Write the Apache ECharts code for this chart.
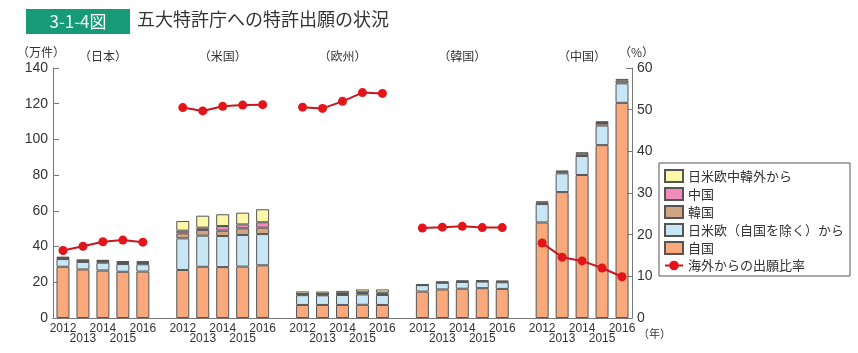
<!DOCTYPE html>
<html lang="ja">
<head>
    <meta charset="UTF-8">
    <title>五大特許庁への特許出願の状況</title>
    <script type="text/javascript" src="https://cdn.jsdelivr.net/npm/echarts@6/dist/echarts.min.js"></script>
    <style>
        html, body {margin: 0; padding: 0; background: #fff;}
        #charts {width: 858px; height: 353px;}
    </style>
</head>
<body>
<div id="charts"></div>
<script>
    // 年・庁
    var years = ['2012', '2013', '2014', '2015', '2016']
    var offices = ['（日本）', '（米国）', '（欧州）', '（韓国）', '（中国）']

    // 出願件数（万件）  日本, 米国, 欧州, 韓国, 中国 の順
    var selfApps = [
        [28.7, 27.2, 26.6, 25.9, 26.0],
        [26.9, 28.7, 28.5, 28.8, 29.5],
        [7.3, 7.3, 7.3, 7.4, 7.3],
        [14.8, 16.0, 16.4, 16.7, 16.3],
        [53.5, 70.5, 80.1, 96.8, 120.5]
    ]
    var jueApps = [
        [4.3, 4.2, 4.4, 4.3, 4.1],
        [17.7, 17.4, 17.4, 17.7, 17.5],
        [5.5, 5.4, 5.6, 5.8, 5.6],
        [3.6, 3.7, 3.8, 3.7, 3.7],
        [10.3, 10.5, 10.6, 11.0, 10.9]
    ]
    var krApps = [
        [0.5, 0.5, 0.6, 0.6, 0.6],
        [2.8, 3.2, 3.0, 3.7, 3.6],
        [0.5, 0.5, 0.6, 0.7, 0.7],
        [null, null, null, null, null],
        [0.9, 1.0, 1.3, 1.4, 1.5]
    ]
    var cnApps = [
        [0.2, 0.2, 0.3, 0.4, 0.5],
        [1.5, 1.3, 2.6, 2.2, 3.0],
        [0.2, 0.3, 0.4, 0.5, 0.6],
        [0.2, 0.3, 0.3, 0.3, 0.4],
        [null, null, null, null, null]
    ]
    var otherApps = [
        [0.6, 0.7, 0.7, 0.7, 0.6],
        [5.4, 6.7, 6.6, 6.6, 7.3],
        [1.4, 1.3, 1.3, 1.6, 1.8],
        [0.3, 0.4, 0.5, 0.4, 0.5],
        [0.6, 0.5, 0.8, 1.0, 1.0]
    ]
    // 海外からの出願比率（%）
    var foreignRatio = [
        [16.2, 17.2, 18.3, 18.7, 18.2],
        [50.5, 49.7, 50.8, 51.1, 51.2],
        [50.6, 50.3, 52.0, 54.1, 53.9],
        [21.6, 21.8, 22.0, 21.7, 21.7],
        [18.0, 14.6, 13.7, 12.0, 9.9]
    ]

    var leftTicks = [0, 20, 40, 60, 80, 100, 120, 140]
    var rightTicks = [0, 10, 20, 30, 40, 50, 60]

    // 5本ずつ並べて、庁の間に空きを1つ入れる
    function spread(groups) {
        var out = []
        groups.forEach(function (g, gi) {
            g.forEach(function (v) { out.push(v == null ? '-' : v) })
            if (gi < groups.length - 1) out.push('-')
        })
        return out
    }
    var cats = [], topCats = []
    offices.forEach(function (o, gi) {
        years.forEach(function (y, yi) {
            cats.push(y)
            topCats.push(yi == 2 ? o : '')
        })
        if (gi < offices.length - 1) { cats.push(''); topCats.push('') }
    })

    var font = "'Noto Sans CJK JP', sans-serif"
    var numFont = "'Liberation Sans Narrow', 'Liberation Sans', sans-serif"
    var border = {borderColor: '#555', borderWidth: 1}

    function barSeries(name, color, data) {
        return {
            name: name, type: 'bar', stack: 'apps', barWidth: 13,
            data: spread(data),
            itemStyle: Object.assign({color: color}, border)
        }
    }

    var chart = echarts.init(document.getElementById('charts'), null, {renderer: 'canvas'})
    chart.setOption({
        animation: false,
        textStyle: {fontFamily: font},
        grid: {left: 53, right: 226, top: 68, bottom: 35},
        legend: {
            orient: 'vertical', left: 659, top: 163,
            padding: [6, 6, 4, 5], itemWidth: 18, itemHeight: 12, itemGap: 4,
            borderColor: '#555', borderWidth: 1,
            textStyle: {fontSize: 13, color: '#333', fontFamily: font},
            data: [
                {name: '日米欧中韓外から', icon: 'rect'},
                {name: '中国', icon: 'rect'},
                {name: '韓国', icon: 'rect'},
                {name: '日米欧（自国を除く）から', icon: 'rect'},
                {name: '自国', icon: 'rect'},
                '海外からの出願比率'
            ]
        },
        xAxis: [{
            type: 'category', data: cats, position: 'bottom',
            axisLine: {lineStyle: {color: '#777'}},
            axisTick: {inside: true, length: 4, lineStyle: {color: '#777'}},
            axisLabel: {
                interval: 0, margin: 6, fontSize: 12, color: '#333', fontFamily: numFont, lineHeight: 10,
                formatter: function (v, i) { return (years.indexOf(v) % 2 == 1) ? '\n' + v : v }
            }
        }, {
            type: 'category', data: topCats, position: 'top',
            axisLine: {show: false}, axisTick: {show: false},
            axisLabel: {interval: 0, margin: 6, fontSize: 12, color: '#333'}
        }],
        yAxis: [{
            type: 'value', min: 0, max: leftTicks[leftTicks.length - 1], interval: 20,
            splitLine: {show: false},
            axisLine: {show: true, lineStyle: {color: '#777'}},
            axisTick: {show: true, inside: true, length: 6, lineStyle: {color: '#777'}},
            axisLabel: {fontSize: 14, color: '#333', margin: 5, fontFamily: numFont}
        }, {
            type: 'value', min: 0, max: rightTicks[rightTicks.length - 1], interval: 10, position: 'right',
            splitLine: {show: false},
            axisLine: {show: true, lineStyle: {color: '#777'}},
            axisTick: {show: true, inside: true, length: 6, lineStyle: {color: '#777'}},
            axisLabel: {fontSize: 14, color: '#333', margin: 5, fontFamily: numFont}
        }],
        series: [
            barSeries('自国', '#f9a97b', selfApps),
            barSeries('日米欧（自国を除く）から', '#c8e7f6', jueApps),
            barSeries('韓国', '#d1a483', krApps),
            barSeries('中国', '#f08cbc', cnApps),
            barSeries('日米欧中韓外から', '#fbf8a8', otherApps),
            {
                name: '海外からの出願比率', type: 'line', yAxisIndex: 1,
                data: spread(foreignRatio), connectNulls: false,
                symbol: 'circle', symbolSize: 9,
                lineStyle: {color: '#c8161d', width: 2},
                itemStyle: {color: '#e4141b'}
            }
        ],
        graphic: [
            {type: 'rect', left: 26, top: 9, shape: {width: 104, height: 25}, style: {fill: '#179a78'}},
            {type: 'text', x: 78, y: 22, style: {text: '3-1-4図', fill: '#fff', fontSize: 17, fontFamily: font, align: 'center', verticalAlign: 'middle'}},
            {type: 'text', left: 137, top: 10, style: {text: '五大特許庁への特許出願の状況', fill: '#333', fontSize: 18, fontFamily: font}},
            {type: 'text', left: 17, top: 46, style: {text: '（万件）', fill: '#333', fontSize: 12, fontFamily: font}},
            {type: 'text', left: 619, top: 46, style: {text: '（%）', fill: '#333', fontSize: 12, fontFamily: font}},
            {type: 'text', left: 638, top: 328, style: {text: '（年）', fill: '#333', fontSize: 11, fontFamily: font}}
        ]
    })
</script>
</body>
</html>
